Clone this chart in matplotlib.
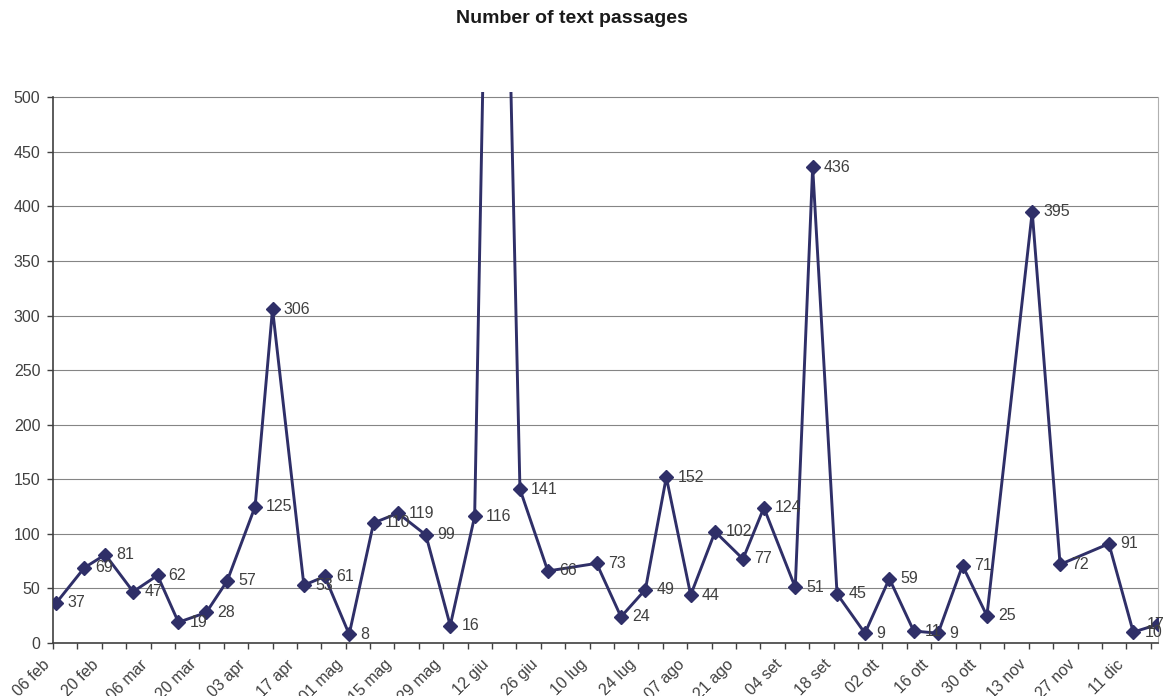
import numpy as np
import pandas as pd
import matplotlib
matplotlib.use("Agg")
import matplotlib.pyplot as plt

plt.rcParams['font.family'] = ['Liberation Sans', 'DejaVu Sans']

# Data (one point per week, 2006)
dates = ['2006-02-07', '2006-02-15', '2006-02-21', '2006-03-01', '2006-03-08',
         '2006-03-14', '2006-03-22', '2006-03-28', '2006-04-05', '2006-04-10',
         '2006-04-19', '2006-04-25', '2006-05-02', '2006-05-09', '2006-05-16',
         '2006-05-24', '2006-05-31', '2006-06-07', '2006-06-13', '2006-06-20',
         '2006-06-28', '2006-07-12', '2006-07-19', '2006-07-26', '2006-08-01',
         '2006-08-08', '2006-08-15', '2006-08-23', '2006-08-29', '2006-09-07',
         '2006-09-12', '2006-09-19', '2006-09-27', '2006-10-04', '2006-10-11',
         '2006-10-18', '2006-10-25', '2006-11-01', '2006-11-14', '2006-11-22',
         '2006-12-06', '2006-12-13', '2006-12-20']
passages = [37, 69, 81, 47, 62, 19, 28, 57, 125, 306,
            53, 61, 8, 110, 119, 99, 16, 116, 1130, 141,
            66, 73, 24, 49, 152, 44, 102, 77, 124, 51,
            436, 45, 9, 59, 11, 9, 71, 25, 395, 72,
            91, 10, 17]

tick_labels = ['06 feb', '20 feb', '06 mar', '20 mar', '03 apr', '17 apr',
               '01 mag', '15 mag', '29 mag', '12 giu', '26 giu', '10 lug',
               '24 lug', '07 ago', '21 ago', '04 set', '18 set', '02 ott',
               '16 ott', '30 ott', '13 nov', '27 nov', '11 dic']

x = pd.to_datetime(dates)
start = pd.Timestamp('2006-02-06')
tick_pos = [start + pd.Timedelta(days=14 * i) for i in range(len(tick_labels))]
minor_pos = [start + pd.Timedelta(days=7 * i) for i in range(2 * len(tick_labels))]

line_color = '#2f2f68'
text_color = '#404040'

fig = plt.figure(figsize=(11.67, 6.96), dpi=100)
ax = fig.add_axes([0.0454, 0.0761, 0.9472, 0.7924])

ax.plot(x, passages, color=line_color, lw=2.1, marker='D', ms=6.8,
        mec=line_color, mfc=line_color, zorder=3)

# value labels right of each point
for i, (d, v) in enumerate(zip(x, passages)):
    dx = -8 if i == len(passages) - 1 else 8
    ax.annotate(str(v), (d, v), xytext=(dx, 0), textcoords='offset points',
                va='center', ha='left', fontsize=11.5, color=text_color,
                zorder=4)

ax.set_ylim(0, 505.3)
ax.set_xlim(start, start + pd.Timedelta(days=317.2))
ax.set_yticks(np.arange(0, 501, 50))
ax.grid(axis='y', color='#858585', lw=0.8)
ax.set_axisbelow(True)

ax.set_xticks(tick_pos)
ax.set_xticklabels(tick_labels, rotation=45, ha='right')
ax.set_xticks(minor_pos, minor=True)
ax.tick_params(axis='x', which='both', length=4, width=1, color='#404040',
               labelsize=11.5, labelcolor=text_color, pad=6)
ax.tick_params(axis='y', length=4, width=1, color='#404040',
               labelsize=11.5, labelcolor=text_color, pad=5)

ax.spines['top'].set_visible(False)
ax.spines['left'].set_bounds(0, 500)
ax.spines['right'].set_bounds(0, 500)
ax.spines['right'].set_color('#b0b0b0')
ax.spines['left'].set_color('#404040')
ax.spines['bottom'].set_color('#404040')
ax.spines['left'].set_linewidth(1.2)
ax.spines['bottom'].set_linewidth(1.2)

fig.text(0.4897, 0.974, 'Number of text passages', ha='center', va='center',
         fontsize=14, fontweight='bold', color='#1a1a1a')

fig.savefig('out.png', dpi=100)
